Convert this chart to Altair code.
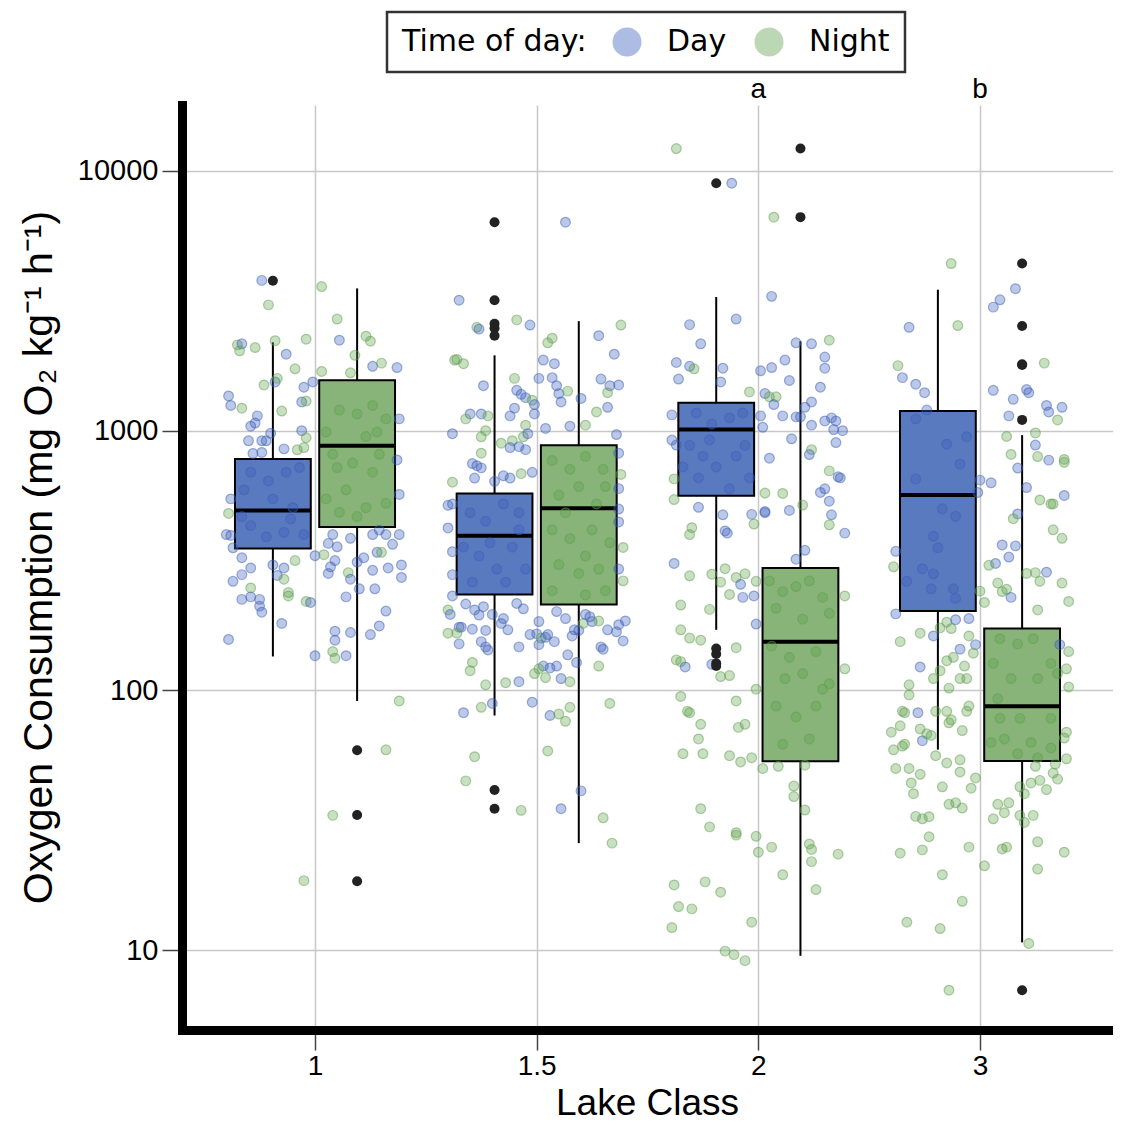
import altair as alt
import pandas as pd

classes = ["1", "1.5", "2", "3"]
tods = ["Day", "Night"]

# Box statistics
box_class = ["1", "1", "1.5", "1.5", "2", "2", "3", "3"]
box_tod = ["Day", "Night"] * 4
box_q1 = [352, 426, 234, 214, 561, 53.3, 202, 53.4]
box_med = [493, 875, 394, 502, 1010, 154, 565, 86.9]
box_q3 = [777, 1563, 573, 878, 1280, 296, 1190, 173]
box_lo = [135, 91, 80, 25.8, 171, 9.5, 59.1, 10.7]
box_hi = [2188, 3530, 1950, 2640, 3270, 2210, 3490, 961]

# Outliers (black dots)
out_class = ["1", "1", "1", "1",
             "1.5", "1.5", "1.5", "1.5", "1.5", "1.5", "1.5",
             "2", "2", "2", "2", "2", "2", "2",
             "3", "3", "3", "3", "3", "3"]
out_tod = ["Day", "Night", "Night", "Night",
           "Day", "Day", "Day", "Day", "Day", "Day", "Day",
           "Day", "Day", "Day", "Day", "Day", "Night", "Night",
           "Night", "Night", "Night", "Night", "Night", "Night"]
out_val = [3776, 58.8, 33.1, 18.4,
           6350, 3180, 2580, 2480, 2320, 41.3, 35.0,
           8970, 145, 138, 127, 124, 12200, 6640,
           4400, 2530, 1800, 1790, 1100, 7.0]

# Jittered observations: (time of day, jitter offset, value)
cat1_pts = [
("D",-0.24,3790),("N",-0.21,3050),("N",0.03,3590),("N",0.10,2690),("N",-0.35,2140),("D",-0.33,2160),("N",-0.34,2030),("N",-0.27,2090),("N",-0.18,2220),("D",-0.13,1970),("N",-0.04,2250),("D",0.11,2230),("N",0.23,2310),("N",0.25,2210),("N",0.18,1950),("N",-0.09,1730),("N",0.03,1690),("N",0.16,1670),("D",0.26,1770),("N",0.30,1820),("D",0.37,1750),("N",-0.23,1500),("D",-0.18,1540),("N",-0.17,1590),("D",-0.05,1470),("D",-0.01,1540),("D",-0.39,1360),("D",-0.38,1250),("N",-0.33,1220),("D",-0.06,1290),("N",-0.04,1300),("D",-0.26,1140),("D",-0.29,1040),("D",-0.27,1070),("N",-0.15,1190),("D",0.38,1110),("D",-0.20,977),("D",-0.30,914),("D",-0.24,914),("D",-0.22,914),("D",-0.06,1000),("N",-0.04,939),("D",-0.14,851),("N",-0.05,861),("N",-0.08,844),("D",-0.28,817),("D",-0.24,824),("D",0.37,771),("D",0.38,568),("D",-0.38,546),("N",-0.39,480),("D",-0.40,398),("D",-0.38,395),("D",-0.37,354),("D",0.08,398),("D",0.16,385),("D",0.29,414),("D",0.26,398),("D",0.32,398),("D",0.35,365),("D",0.38,398),("D",0.06,368),("D",0.10,357),("D",0.00,330),("N",0.04,333),("N",-0.09,316),("D",-0.33,324),("D",-0.19,304),("D",-0.14,296),("D",-0.17,277),("D",-0.29,296),("D",-0.33,279),("D",-0.37,263),("N",-0.14,268),("N",-0.29,248),("N",-0.12,238),("N",-0.12,231),("D",0.06,282),("D",0.07,299),("D",0.09,316),("N",0.15,284),("D",0.19,312),("D",0.22,324),("D",0.28,340),("N",0.30,340),("D",0.26,290),("D",0.33,296),("D",0.39,304),("D",0.39,272),("D",0.16,268),("D",0.20,246),("D",0.27,246),("D",-0.33,224),("D",-0.29,229),("D",-0.25,224),("D",-0.25,211),("D",-0.24,200),("N",-0.04,220),("D",-0.02,218),("D",0.14,229),("D",0.32,202),("D",-0.15,181),("D",0.09,169),("D",0.16,167),("D",0.25,164),("D",0.29,177),("D",-0.39,157),("D",0.09,156),("D",0.00,136),("N",0.08,141),("N",0.09,133),("D",0.14,136),("N",0.38,91),("N",0.32,59),("N",0.08,33),("N",-0.05,18.5),
("D",-0.29,692),("D",-0.21,640),("D",-0.13,692),("D",-0.07,721),("D",-0.32,592),("D",-0.19,546),("D",-0.10,505),("D",-0.29,431),("D",-0.14,406),("D",-0.05,398),("D",-0.22,390),("D",-0.33,467),("D",-0.11,457),
("N",0.11,1200),("N",0.19,1160),("N",0.26,1250),("N",0.32,1110),("N",0.05,988),("N",0.23,950),("N",0.29,811),("N",0.10,721),("N",0.17,750),("N",0.26,692),("N",0.14,592),("N",0.05,546),("N",0.23,505),("N",0.11,485),("N",0.32,525),("N",0.19,467),("N",0.08,811),("N",0.28,988),
]

cat15_pts = [
("D",0.13,6350),("D",-0.35,3180),("N",-0.09,2670),("D",-0.03,2550),("N",-0.27,2500),("D",-0.26,2460),("N",0.38,2550),("D",0.28,2320),("N",0.07,2270),("N",0.05,2180),("D",0.35,1970),("N",-0.37,1870),("N",-0.36,1880),("N",-0.33,1810),("D",0.03,1870),("D",0.08,1810),("D",0.29,1580),("D",0.33,1490),("D",0.37,1500),("N",0.32,1400),("D",-0.24,1490),("N",-0.10,1590),("D",0.01,1590),("D",0.07,1600),("D",0.09,1490),("D",-0.09,1430),("D",-0.07,1380),("D",-0.05,1340),("N",-0.02,1310),("D",-0.01,1260),("D",0.10,1390),("N",0.14,1420),("D",0.11,1290),("D",0.20,1330),("D",0.32,1230),("N",0.27,1180),("D",-0.30,1160),("D",-0.25,1160),("N",-0.32,1110),("N",-0.22,1140),("D",-0.12,1140),("D",-0.10,1220),("N",-0.05,1050),("D",-0.01,1160),("D",0.04,1020),("D",0.15,1040),("N",0.22,1050),("D",-0.38,973),("N",-0.25,947),("N",-0.23,1000),("N",-0.06,947),("D",-0.04,973),("D",0.36,966),("N",-0.16,895),("N",-0.11,915),("D",-0.08,868),("D",-0.05,845),("D",-0.12,861),("N",-0.25,819),("D",-0.29,747),("D",-0.27,733),("D",-0.25,719),("D",-0.28,657),("N",-0.38,633),("D",-0.19,638),("D",-0.15,670),("D",-0.12,657),("N",-0.07,683),("D",-0.02,691),("D",0.37,819),("N",0.38,678),("D",0.37,598),("D",-0.38,522),("D",-0.40,516),("D",-0.40,422),("D",0.37,499),("D",0.37,445),("N",0.39,355),("D",-0.38,342),("D",0.37,293),("N",0.39,264),("D",-0.38,279),("D",-0.38,231),("N",-0.40,204),("D",-0.39,196),("D",-0.35,175),("D",-0.34,175),("N",-0.40,166),("N",-0.36,166),("D",-0.29,172),("D",-0.23,170),("D",-0.16,181),("D",-0.13,171),("D",-0.09,216),("D",-0.06,206),("D",-0.32,215),("D",-0.28,204),("D",-0.24,210),("D",-0.26,195),("D",-0.20,196),("D",-0.15,189),("D",-0.35,151),("D",-0.25,154),("D",-0.23,147),("D",-0.22,143),("D",-0.08,147),("D",-0.03,164),("D",0.00,165),("N",0.02,159),("D",0.01,150),("D",0.01,184),("D",0.08,154),("D",0.04,160),("D",0.05,164),("D",0.09,201),("D",0.13,189),("D",0.17,171),("D",0.19,170),("N",0.21,181),("D",0.24,192),("D",0.22,196),("D",0.25,184),("N",0.28,185),("D",0.29,147),("D",0.30,144),("D",0.32,171),("D",0.36,168),("D",0.37,179),("D",0.40,185),("D",0.39,155),("D",0.16,162),("D",0.18,128),("D",0.14,137),("D",0.09,124),("D",0.06,122),("D",0.03,124),("N",0.01,121),("N",-0.01,116),("N",0.04,112),("N",-0.29,128),("N",-0.30,119),("N",-0.23,105),("N",-0.14,107),("D",-0.08,108),("D",0.11,111),("N",0.15,108),("N",0.28,124),("D",-0.33,82),("N",-0.25,86),("D",-0.20,89),("D",-0.02,90),("D",0.06,80),("N",0.10,81),("N",0.13,76),("N",0.15,86),("N",0.33,89),("N",-0.28,55.5),("N",-0.32,44.8),("N",0.05,58.4),("N",-0.07,34.5),("D",0.11,35),("D",0.20,41),("N",0.30,32.3),("N",0.34,25.8),
("D",-0.30,483),("D",-0.23,448),("D",-0.15,522),("D",-0.08,483),("D",-0.33,356),("D",-0.26,329),("D",-0.18,293),("D",-0.11,356),("D",-0.05,293),("D",-0.29,261),("D",-0.14,261),("D",-0.21,370),("D",-0.08,415),
("N",0.07,767),("N",0.15,710),("N",0.22,796),("N",0.30,710),("N",0.10,564),("N",0.19,609),("N",0.27,522),("N",0.31,609),("N",0.07,415),("N",0.15,384),("N",0.25,415),("N",0.33,370),("N",0.10,305),("N",0.19,282),("N",0.28,293),("N",0.07,242),("N",0.22,233),("N",0.31,242),("N",0.13,483),("N",0.22,329),
]

cat2_pts = [
("N",-0.37,12200),("D",-0.12,8970),("N",0.07,6640),("D",0.06,3290),("D",-0.31,2560),("D",-0.10,2690),("D",-0.26,2160),("D",-0.37,1830),("D",-0.31,1770),("N",-0.29,1730),("D",-0.36,1580),("D",-0.16,1740),("D",-0.17,1540),("D",0.01,1700),("D",0.06,1750),("D",0.12,1870),("D",0.14,1560),("D",0.17,2180),("D",0.24,2160),("N",0.32,2230),("D",0.30,1920),("D",0.30,1740),("D",0.28,1470),("N",-0.04,1410),("D",0.03,1390),("N",0.05,1350),("N",0.08,1350),("D",0.07,1260),("D",0.11,1140),("D",0.17,1130),("D",0.19,1130),("D",0.21,1230),("D",0.24,1290),("D",0.24,1050),("D",0.15,930),("D",0.30,1090),("D",0.33,1120),("D",0.35,1090),("D",0.38,1000),("D",0.34,1010),("D",0.35,900),("D",0.01,1140),("D",0.02,1030),("D",-0.39,1150),("D",-0.39,920),("D",-0.37,880),("D",0.05,783),("N",0.24,845),("D",0.23,809),("N",0.32,700),("D",0.36,664),("D",0.37,658),("D",0.28,578),("D",0.30,597),("D",0.32,535),("D",0.33,474),("N",0.32,434),("D",0.39,403),("N",-0.38,652),("N",-0.38,543),("D",-0.27,507),("N",-0.30,423),("N",-0.31,398),("D",-0.16,474),("D",-0.15,411),("D",-0.14,403),("D",-0.03,476),("D",0.03,488),("D",0.03,483),("N",0.03,575),("N",0.11,573),("N",0.20,517),("D",0.14,493),("N",-0.02,437),("D",0.17,320),("D",0.21,346),("D",-0.38,308),("N",-0.31,276),("N",-0.21,280),("N",-0.15,294),("N",-0.17,261),("N",-0.13,234),("N",-0.10,272),("N",-0.06,281),("D",-0.08,256),("D",-0.07,228),("D",-0.02,231),("N",-0.01,263),("D",-0.01,180),("N",-0.35,213),("N",-0.22,205),("N",-0.35,171),("N",-0.31,159),("N",-0.26,156),("N",-0.37,131),("N",-0.35,129),("D",-0.33,123),("D",-0.21,126),("N",-0.17,113),("N",-0.13,114),("N",-0.10,146),("N",0.39,231),("N",0.39,121),("N",-0.01,101),("N",-0.35,94.7),("N",-0.32,83),("N",-0.31,82),("N",-0.26,74),("N",-0.27,65),("N",-0.34,57),("N",-0.25,57),("N",-0.13,56),("N",-0.08,53),("N",-0.03,55),("N",-0.10,91),("N",-0.09,72),("N",-0.06,74),("N",0.02,50),("N",0.09,51),("N",0.21,51.5),("N",0.16,42.8),("N",0.16,39),("N",0.21,34.6),("N",-0.26,35),("N",-0.22,29.8),("N",-0.10,28.3),("N",-0.10,27.7),("N",-0.01,27.4),("N",0.00,23.8),("N",0.06,24.9),("N",0.23,25.6),("N",0.24,24.4),("N",0.24,21.9),("N",0.36,23.4),("N",0.11,19.5),("N",0.26,17.1),("N",-0.38,17.8),("N",-0.36,14.7),("N",-0.30,14.4),("N",-0.24,18.3),("N",-0.17,16.7),("N",-0.39,12.2),("N",-0.03,12.8),("N",-0.15,9.9),("N",-0.11,9.6),("N",-0.06,9.1),
("D",-0.28,1170),("D",-0.21,1060),("D",-0.13,1120),("D",-0.07,1170),("D",-0.31,878),("D",-0.25,798),("D",-0.19,725),("D",-0.10,798),("D",-0.04,658),("D",-0.27,658),("D",-0.13,597),("D",-0.34,725),("D",-0.06,878),("D",-0.22,921),
("N",0.05,264),("N",0.11,240),("N",0.17,251),("N",0.23,264),("N",0.29,228),("N",0.08,207),("N",0.20,188),("N",0.32,198),("N",0.06,148),("N",0.14,134),("N",0.26,141),("N",0.12,111),("N",0.20,116),("N",0.29,101),("N",0.08,87),("N",0.17,79),("N",0.26,87),("N",0.32,106),("N",0.23,65),("N",0.11,62),
]

cat3_pts = [
("N",-0.13,4400),("D",-0.32,2500),("N",-0.10,2540),("N",-0.37,1780),("D",-0.35,1600),("D",-0.29,1510),("D",-0.25,1400),("D",-0.24,1200),("D",0.06,2990),("D",0.09,3190),("D",0.16,3520),("N",0.29,1820),("D",0.06,1430),("D",0.15,1320),("D",0.21,1440),("D",0.22,1400),("D",0.13,1140),("D",0.30,1250),("D",0.31,1180),("D",0.37,1230),("N",0.35,1100),("N",0.12,950),("N",0.25,980),("D",0.25,880),("N",0.14,810),("N",0.26,795),("D",0.31,770),("N",0.38,775),("N",0.38,755),("D",0.17,718),("D",0.05,630),("D",0.21,604),("D",0.00,645),("D",-0.01,578),("D",0.38,563),("N",0.27,541),("N",0.32,522),("N",0.33,522),("D",0.17,478),("N",0.15,458),("N",0.33,415),("N",0.37,385),("D",-0.38,343),("N",-0.39,299),("D",0.10,363),("D",0.16,360),("D",0.13,326),("D",0.07,308),("D",0.30,285),("N",0.04,303),("N",0.21,282),("N",0.25,284),("N",0.27,263),("N",0.08,259),("N",0.10,240),("N",0.12,245),("D",0.14,228),("N",0.26,204),("N",0.37,259),("N",0.40,220),("N",0.00,241),("N",0.02,218),("D",-0.38,197),("N",-0.36,154),("N",-0.27,166),("D",-0.21,162),("N",-0.18,174),("N",-0.15,183),("N",-0.13,173),("D",-0.11,187),("D",-0.05,189),("N",-0.05,162),("D",-0.02,150),("N",-0.03,139),("N",-0.15,130),("N",-0.12,134),("D",-0.09,144),("N",-0.07,124),("D",-0.27,123),("N",-0.21,111),("N",-0.18,119),("N",-0.14,102),("N",-0.09,111),("N",-0.06,111),("N",-0.32,105),("N",-0.32,96),("N",-0.35,83),("D",-0.28,82),("D",-0.26,64),("N",-0.34,82),("N",-0.36,73),("N",-0.40,69),("N",-0.27,71),("N",-0.24,68),("N",-0.22,67),("N",-0.20,83),("N",-0.15,83),("N",-0.14,75),("N",-0.13,77),("N",-0.08,70),("N",-0.06,83),("N",-0.05,87),("N",-0.39,59),("N",-0.35,61),("N",-0.34,62),("N",-0.38,50),("N",-0.32,50),("N",-0.27,47.5),("N",-0.20,56),("N",-0.15,52.5),("N",-0.09,54),("N",-0.31,44),("N",-0.30,40),("N",-0.17,42.5),("N",-0.09,48.5),("N",-0.04,42),("N",-0.02,46),("N",-0.14,36.4),("N",-0.11,36.9),("N",-0.08,35.2),("N",-0.29,32.7),("N",-0.26,32.0),("N",-0.23,32.6),("N",-0.23,27.3),("N",-0.36,23.6),("N",-0.26,24.3),("N",-0.05,24.9),("N",-0.17,19.5),("N",-0.08,15.4),("N",-0.33,12.8),("N",-0.18,12.1),("N",-0.14,7.0),("N",0.22,10.6),("N",0.02,21.1),("N",0.10,24.5),("N",0.12,24.9),("N",0.26,20.5),("N",0.38,23.8),("N",0.26,26.1),("N",0.18,33),("N",0.24,33),("N",0.20,31),("N",0.06,32),("N",0.08,36.4),("N",0.11,33.8),("N",0.13,36.9),("N",0.18,42.5),("N",0.20,40),("N",0.23,44),("N",0.27,45),("N",0.30,41.5),("N",0.35,45.5),("N",0.33,48),("N",0.25,51),("N",0.39,54.5),("N",0.34,52),("N",0.38,65.5),("N",0.39,69),("N",0.40,103),("N",0.39,121),("N",0.40,141),("D",0.36,150),
("D",-0.29,1110),("D",-0.15,887),("D",-0.06,948),("D",-0.09,743),("D",-0.29,652),("D",-0.17,500),("D",-0.11,468),("D",-0.21,392),("D",-0.19,354),("D",-0.26,294),("D",-0.21,281),("D",-0.12,246),("D",-0.11,226),("D",-0.33,263),("D",-0.22,246),
("N",0.09,158),("N",0.17,151),("N",0.24,158),("N",0.32,127),("N",0.06,127),("N",0.14,111),("N",0.26,111),("N",0.35,116),("N",0.08,93),("N",0.18,78),("N",0.32,78),("N",0.11,65),("N",0.23,63),("N",0.32,60),("N",0.05,63),("N",0.17,57),("N",0.26,55),("N",0.09,78),
]

sig_class = ["2", "3"]
sig_label = ["a", "b"]

# ---------- build tables ----------
DODGE = {"Day": -0.19, "Night": 0.19}
HALF = 0.171

rows = []
for ci, pts in enumerate([cat1_pts, cat15_pts, cat2_pts, cat3_pts]):
    for t, off, v in pts:
        rows.append({"pos": ci + off, "value": v, "tod": "Day" if t == "D" else "Night"})
points = pd.DataFrame(rows)

boxes = pd.DataFrame({"cls": box_class, "tod": box_tod, "q1": box_q1, "med": box_med,
                      "q3": box_q3, "lo": box_lo, "hi": box_hi})
boxes["pos"] = [classes.index(c) + DODGE[t] for c, t in zip(boxes.cls, boxes.tod)]
boxes["left"] = boxes["pos"] - HALF
boxes["right"] = boxes["pos"] + HALF

outl = pd.DataFrame({"cls": out_class, "tod": out_tod, "value": out_val})
outl["pos"] = [classes.index(c) + DODGE[t] for c, t in zip(outl.cls, outl.tod)]

sig = pd.DataFrame({"pos": [classes.index(c) for c in sig_class], "lab": sig_label})

# ---------- scales / axes ----------
FONT = "Liberation Sans"
YTITLE = "Oxygen Consumption (mg O\u2082 kg\u207b\u00b9 h\u207b\u00b9)"
xscale = alt.Scale(domain=[-0.6, 3.6], nice=False, zero=False)
yscale = alt.Scale(type="log", domain=[4.92, 17950], nice=False)

xaxis = alt.Axis(values=[0, 1, 2, 3],
                 labelExpr="['1','1.5','2','3'][datum.value]",
                 labelFont=FONT, labelFontSize=28, labelColor="black", labelPadding=2,
                 tickSize=20, tickColor="#444", tickWidth=1.5,
                 domainColor="black", domainWidth=9, domainCap="square",
                 grid=True, gridColor="#c8c8c8", gridWidth=1.5,
                 title="Lake Class", titleFont=FONT, titleFontSize=37,
                 titleFontWeight="normal", titleColor="black",
                 titleX=465, titleY=84, titleBaseline="alphabetic", titleAlign="center")

yaxis = alt.Axis(values=[10, 100, 1000, 10000], format="d",
                 labelFont=FONT, labelFontSize=29, labelColor="black", labelPadding=4,
                 tickSize=20, tickColor="#444", tickWidth=1.5,
                 domainColor="black", domainWidth=9, domainCap="square",
                 grid=True, gridColor="#c8c8c8", gridWidth=1.5,
                 title=YTITLE,
                 titleFont=FONT, titleFontSize=41, titleFontWeight="normal",
                 titleColor="black", titleX=-131, titleY=452, titleAngle=270,
                 titleBaseline="alphabetic", titleAlign="center", titleLimit=1000)

X = lambda f: alt.X(f, type="quantitative", scale=xscale, axis=xaxis, title="Lake Class")
Y = lambda f: alt.Y(f, type="quantitative", scale=yscale, axis=yaxis, title=YTITLE)

box_fill = alt.Fill("tod:N", scale=alt.Scale(domain=tods, range=["#5a7abf", "#88b47a"]), legend=None)

whisk_hi = alt.Chart(boxes).mark_rule(color="black", strokeWidth=2).encode(
    x=X("pos"), y=Y("q3"), y2="hi")
whisk_lo = alt.Chart(boxes).mark_rule(color="black", strokeWidth=2).encode(
    x=X("pos"), y=Y("lo"), y2="q1")
rects = alt.Chart(boxes).mark_rect(stroke="black", strokeWidth=2).encode(
    x=X("left"), x2="right", y=Y("q1"), y2="q3", fill=box_fill)
medians = alt.Chart(boxes).mark_rule(color="black", strokeWidth=4).encode(
    x=X("left"), x2="right", y=Y("med"))

pts = alt.Chart(points).mark_circle(size=95, fillOpacity=0.34, strokeOpacity=0.5, strokeWidth=1.2).encode(
    x=X("pos"), y=Y("value"),
    color=alt.Color("tod:N", scale=alt.Scale(domain=tods, range=["#3c5fb9", "#5fa04b"]),
                    legend=alt.Legend(title="Time of day:", orient="none", legendX=205, legendY=-93,
                                      direction="horizontal", titleOrient="left", titleLimit=400,
                                      titleFont="DejaVu Sans", titleFontSize=30, titleFontWeight="normal",
                                      titleColor="black", titlePadding=25, titleBaseline="middle",
                                      labelFont="DejaVu Sans", labelFontSize=30, labelColor="black",
                                      labelOffset=25, columnPadding=27, labelLimit=300,
                                      symbolType="circle", symbolSize=841, symbolOpacity=0.42,
                                      symbolStrokeWidth=0,
                                      strokeColor="#333", fillColor="white", padding=15)),
    stroke=alt.Stroke("tod:N", scale=alt.Scale(domain=tods, range=["#3c5fb9", "#5fa04b"]), legend=None),
)

outs = alt.Chart(outl).mark_circle(size=100, color="#222", opacity=1).encode(
    x=X("pos"), y=Y("value"))

letters = alt.Chart(sig).mark_text(font=FONT, fontSize=28, color="black", baseline="middle").encode(
    x=X("pos"), y=alt.value(-15), text="lab:N")

chart = alt.layer(rects, whisk_hi, whisk_lo, medians, pts, outs, letters).resolve_scale(
    color="independent", fill="independent", stroke="independent"
).properties(
    width=931, height=925,
    padding={"left": 174, "top": 97, "right": 0, "bottom": 92},
    autosize=alt.AutoSizeParams(type="none"),
).configure_view(stroke=None).configure_legend(strokeWidth=2.5)

chart.save("out.html", embed_options={"renderer": "svg", "actions": False})
